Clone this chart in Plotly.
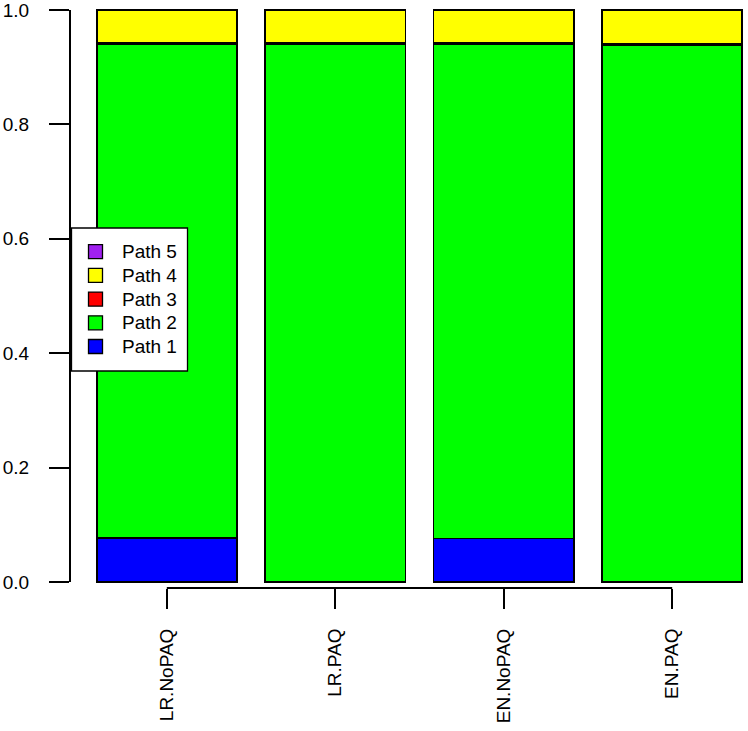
import plotly.graph_objs as go

# stacked proportions per model
models = ['LR.NoPAQ', 'LR.PAQ', 'EN.NoPAQ', 'EN.PAQ']
pos = [0.7, 1.9, 3.1, 4.3]  # R barplot centres (width 1, space 0.2)
path1 = [0.077, 0.0, 0.076, 0.0]
path2 = [0.864, 0.940, 0.865, 0.938]
path3 = [0.002, 0.002, 0.002, 0.002]
path4 = [0.057, 0.058, 0.057, 0.060]
path5 = [0.0, 0.0, 0.0, 0.0]

names = ['Path 1', 'Path 2', 'Path 3', 'Path 4', 'Path 5']
values = [path1, path2, path3, path4, path5]
colors = ['#0000FF', '#00FF00', '#FF0000', '#FFFF00', '#A020F0']

W, H = 748, 731
ML, MB = 70, 143
PW, PH = W - ML, H - MB

def px(x):  # pixel -> paper x
    return (x - ML) / PW

def py(y):  # pixel -> paper y
    return (PH - y) / PH

font = dict(family='Arial, Liberation Sans, sans-serif', size=19, color='black')

data = [go.Bar(x=pos, y=vals, name=n, width=1, showlegend=False,
               hoverinfo='skip',
               marker=dict(color=c, line=dict(color='black', width=1.8)))
        for n, vals, c in zip(names, values, colors)]

shapes = [dict(type='line', xref='paper', yref='y', x0=0, x1=0, y0=0, y1=1,
               line=dict(color='black', width=2)),
          dict(type='line', xref='x', yref='paper', x0=pos[0], x1=pos[-1],
               y0=0, y1=0, line=dict(color='black', width=2))]
annotations = []

# R style legend box (top entry = Path 5)
shapes.append(dict(type='rect', xref='paper', yref='paper',
                   x0=px(71.5), x1=px(187.5), y0=py(371), y1=py(228),
                   fillcolor='white', line=dict(color='black', width=1.3)))
for i, (n, c) in enumerate(zip(names[::-1], colors[::-1])):
    yc = 251.7 + i * 23.7
    shapes.append(dict(type='rect', xref='paper', yref='paper',
                       x0=px(88.5), x1=px(102.5), y0=py(yc + 7), y1=py(yc - 7),
                       fillcolor=c, line=dict(color='black', width=1.3)))
    annotations.append(dict(text=n, xref='paper', yref='paper', x=px(120),
                            y=py(yc), xanchor='left', yanchor='middle',
                            showarrow=False, font=font))

layout = go.Layout(
    barmode='stack', width=W, height=H,
    margin=dict(l=ML, r=0, t=0, b=MB, autoexpand=False),
    paper_bgcolor='white', plot_bgcolor='white', font=font, showlegend=False,
    xaxis=dict(range=[0.0105, 4.84], tickvals=pos, ticktext=models,
               tickangle=-90, ticks='outside', ticklen=20, tickwidth=2,
               tickcolor='black', showgrid=False, zeroline=False,
               showline=False, ticklabelstandoff=12, automargin=False,
               ticklabeloverflow='allow', tickfont=font),
    yaxis=dict(range=[-0.0105, 1.0175], tickvals=[0, 0.2, 0.4, 0.6, 0.8, 1.0],
               ticktext=['0.0', '0.2', '0.4', '0.6', '0.8', '1.0'],
               ticks='outside', ticklen=20, tickwidth=2, tickcolor='black',
               showgrid=False, zeroline=False, showline=False,
               ticklabelstandoff=16, automargin=False,
               ticklabeloverflow='allow', tickfont=font),
    shapes=shapes, annotations=annotations,
)

fig = go.Figure(data=data, layout=layout)
# drop the browser's default 8px body margin so the figure sits at (0, 0)
fig.write_html('out.html', config={'displayModeBar': False},
               post_script="document.body.style.margin='0';")
